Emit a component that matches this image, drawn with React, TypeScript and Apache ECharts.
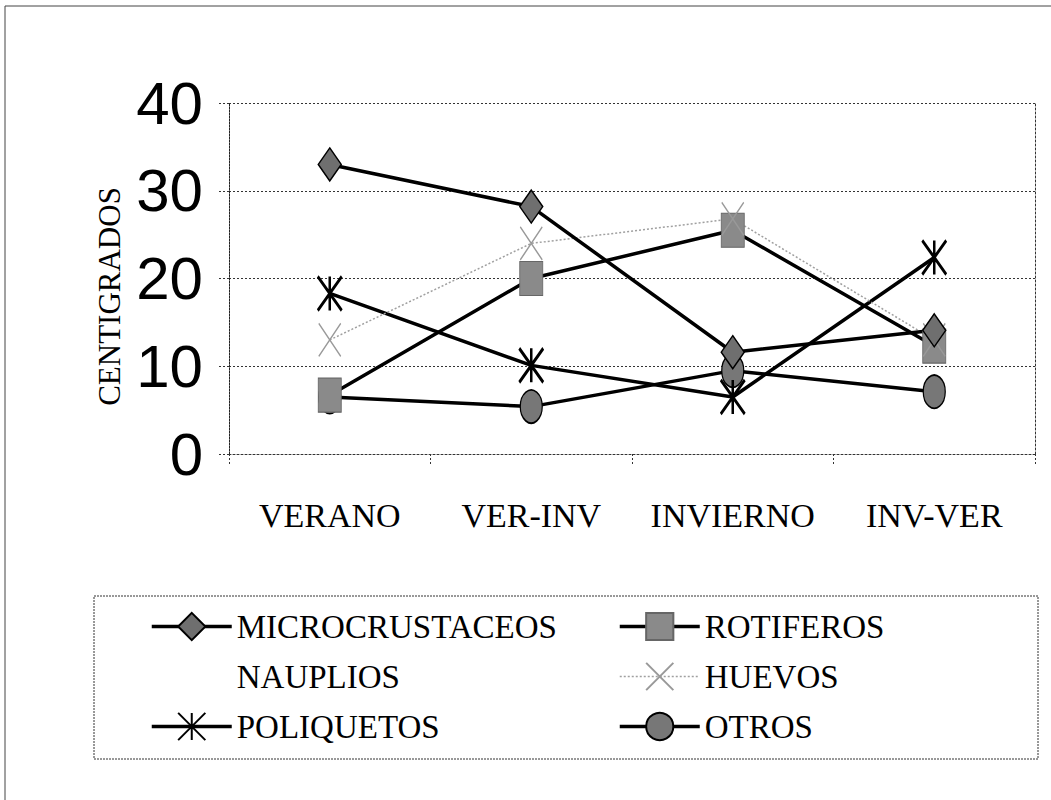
import React, { useEffect, useRef } from "react";
import * as echarts from "echarts";

// Seasonal sampling periods on the category axis
const categories = ["VERANO", "VER-INV", "INVIERNO", "INV-VER"];

// Values per group (°C scale on the y axis)
const microcrustaceos = [33.0, 28.2, 11.6, 14.1];
const rotiferos = [6.7, 20.0, 25.5, 12.3];
const nauplios: (number | null)[] = [null, null, null, null];
const huevos = [13.0, 24.0, 26.8, 13.0];
const poliquetos = [18.3, 10.1, 6.5, 22.4];
const otros = [6.5, 5.4, 9.5, 7.1];

const yTicks = { min: 0, max: 40, interval: 10 };

const SERIF = "'Liberation Serif', 'Times New Roman', serif";
const SANS = "'Liberation Sans', Arial, sans-serif";

const ASTERISK = "path://M0 0L10 10M10 0L0 10M5 0L5 10";
const CROSS = "path://M0 0L10 10M10 0L0 10";

const LINE_W = 3.5;

export default function App() {
  const ref = useRef<HTMLDivElement>(null);

  useEffect(() => {
    if (!ref.current) return;
    const chart = echarts.init(ref.current, null, { renderer: "svg" });

    const solid = { color: "#000", width: LINE_W };
    const legendText = { color: "#000", fontFamily: SERIF, fontSize: 33 };
    const thick = { lineStyle: { width: LINE_W } };

    chart.setOption({
      animation: false,
      backgroundColor: "#fff",
      grid: { left: 229, right: 16, top: 103, bottom: 346, containLabel: false },
      xAxis: {
        type: "category",
        data: categories,
        boundaryGap: true,
        axisLine: { lineStyle: { color: "#333", width: 1, type: [2, 2] } },
        axisTick: { show: true, length: 12, lineStyle: { color: "#333", type: [2, 2] } },
        axisLabel: { color: "#000", fontFamily: SERIF, fontSize: 34, margin: 44, interval: 0 },
        splitLine: { show: false },
      },
      yAxis: [
        {
          type: "value",
          min: yTicks.min,
          max: yTicks.max,
          interval: yTicks.interval,
          name: "CENTIGRADOS",
          nameLocation: "middle",
          nameRotate: 90,
          nameGap: 97,
          nameTextStyle: {
            color: "#000",
            fontFamily: SERIF,
            fontSize: 31,
            padding: [0, 36, 0, 0],
          },
          axisLine: { show: true, lineStyle: { color: "#222", width: 1, type: [2, 1] } },
          axisTick: { show: true, length: 12, lineStyle: { color: "#333", type: [2, 2] } },
          axisLabel: { color: "#000", fontFamily: SANS, fontSize: 60, margin: 26 },
          splitLine: { show: true, lineStyle: { color: "#333", width: 1, type: [2, 2] } },
        },
        {
          type: "value",
          position: "right",
          min: yTicks.min,
          max: yTicks.max,
          interval: yTicks.interval,
          axisLine: { show: true, lineStyle: { color: "#333", width: 1, type: [2, 2] } },
          axisTick: { show: false },
          axisLabel: { show: false },
          splitLine: { show: false },
        },
      ],
      legend: [
        {
          orient: "vertical",
          left: 145,
          top: 605,
          itemWidth: 80,
          itemHeight: 34,
          itemGap: 17,
          textStyle: legendText,
          data: [
            { name: "MICROCRUSTACEOS", ...thick },
            { name: "NAUPLIOS" },
            { name: "POLIQUETOS", ...thick },
          ],
        },
        {
          orient: "vertical",
          left: 613,
          top: 605,
          itemWidth: 80,
          itemHeight: 34,
          itemGap: 17,
          textStyle: legendText,
          data: [
            { name: "ROTIFEROS", ...thick },
            { name: "HUEVOS", lineStyle: { width: 1.5 } },
            { name: "OTROS", ...thick },
          ],
        },
      ],
      graphic: [
        {
          type: "rect",
          silent: true,
          shape: { x: 5, y: 6, width: 1200, height: 1000 },
          style: { fill: "none", stroke: "#444", lineWidth: 1 },
        },
        {
          type: "rect",
          silent: true,
          shape: { x: 94, y: 596, width: 944, height: 163 },
          style: { fill: "none", stroke: "#333", lineWidth: 1, lineDash: [2, 1] },
        },
      ],
      series: [
        {
          name: "NAUPLIOS",
          type: "line",
          data: nauplios,
          symbol: "none",
          lineStyle: { color: "transparent", width: 0 },
          itemStyle: { color: "transparent", opacity: 0 },
        },
        {
          name: "OTROS",
          type: "line",
          data: otros,
          symbol: "circle",
          symbolSize: [22, 33],
          lineStyle: solid,
          itemStyle: { color: "#777", borderColor: "#000", borderWidth: 1.5 },
        },
        {
          name: "POLIQUETOS",
          type: "line",
          data: poliquetos,
          symbol: ASTERISK,
          symbolSize: [24, 34],
          lineStyle: solid,
          itemStyle: { color: "#000", borderColor: "#000", borderWidth: 3 },
        },
        {
          name: "ROTIFEROS",
          type: "line",
          data: rotiferos,
          symbol: "rect",
          symbolSize: [23, 34],
          lineStyle: solid,
          itemStyle: { color: "#8a8a8a", borderColor: "#666", borderWidth: 1 },
        },
        {
          name: "HUEVOS",
          type: "line",
          data: huevos,
          symbol: CROSS,
          symbolSize: [22, 33],
          lineStyle: { color: "#a0a0a0", width: 1.5, type: [2, 2] },
          itemStyle: { color: "#999", borderColor: "#999", borderWidth: 1.5 },
        },
        {
          name: "MICROCRUSTACEOS",
          type: "line",
          data: microcrustaceos,
          symbol: "diamond",
          symbolSize: [23, 33],
          lineStyle: solid,
          itemStyle: { color: "#6f6f6f", borderColor: "#000", borderWidth: 1.5 },
        },
      ],
    });

    return () => chart.dispose();
  }, []);

  return (
    <div
      ref={ref}
      style={{ position: "absolute", left: 0, top: 0, width: 1051, height: 800, background: "#fff" }}
    />
  );
}
